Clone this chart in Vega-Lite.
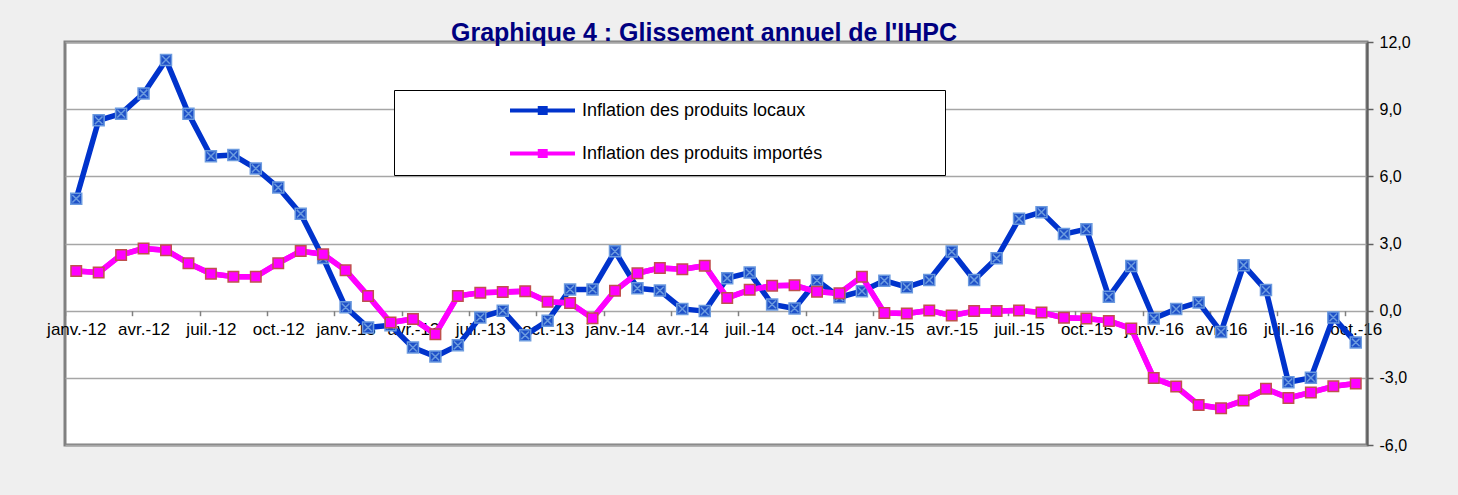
{
  "$schema": "https://vega.github.io/schema/vega-lite/v6.json",
  "width": 1302,
  "height": 403,
  "autosize": {"type": "none"},
  "padding": {"left": 65, "top": 42, "right": 91, "bottom": 50},
  "background": "#efefef",
  "config": {
    "view": {"fill": "white", "stroke": "#808080", "strokeWidth": 3},
    "font": "Liberation Sans"
  },
  "title": {
    "text": "Graphique 4 : Glissement annuel de l'IHPC",
    "font": "Liberation Sans",
    "fontSize": 25,
    "fontWeight": "bold",
    "color": "#000080",
    "anchor": "middle",
    "offset": -12,
    "dx": -12
  },
  "data": {
    "values": [
      {"m": "janv.-12", "s": "Inflation des produits locaux", "v": 5.0},
      {"m": "févr.-12", "s": "Inflation des produits locaux", "v": 8.5},
      {"m": "mars-12", "s": "Inflation des produits locaux", "v": 8.8},
      {"m": "avr.-12", "s": "Inflation des produits locaux", "v": 9.7},
      {"m": "mai-12", "s": "Inflation des produits locaux", "v": 11.2},
      {"m": "juin-12", "s": "Inflation des produits locaux", "v": 8.8},
      {"m": "juil.-12", "s": "Inflation des produits locaux", "v": 6.9},
      {"m": "août-12", "s": "Inflation des produits locaux", "v": 6.95},
      {"m": "sept.-12", "s": "Inflation des produits locaux", "v": 6.35},
      {"m": "oct.-12", "s": "Inflation des produits locaux", "v": 5.5},
      {"m": "nov.-12", "s": "Inflation des produits locaux", "v": 4.33},
      {"m": "déc.-12", "s": "Inflation des produits locaux", "v": 2.35},
      {"m": "janv.-13", "s": "Inflation des produits locaux", "v": 0.15},
      {"m": "févr.-13", "s": "Inflation des produits locaux", "v": -0.75},
      {"m": "mars-13", "s": "Inflation des produits locaux", "v": -0.65},
      {"m": "avr.-13", "s": "Inflation des produits locaux", "v": -1.65},
      {"m": "mai-13", "s": "Inflation des produits locaux", "v": -2.05},
      {"m": "juin-13", "s": "Inflation des produits locaux", "v": -1.55},
      {"m": "juil.-13", "s": "Inflation des produits locaux", "v": -0.3},
      {"m": "août-13", "s": "Inflation des produits locaux", "v": 0.0},
      {"m": "sept.-13", "s": "Inflation des produits locaux", "v": -1.1},
      {"m": "oct.-13", "s": "Inflation des produits locaux", "v": -0.45},
      {"m": "nov.-13", "s": "Inflation des produits locaux", "v": 0.95},
      {"m": "déc.-13", "s": "Inflation des produits locaux", "v": 0.95},
      {"m": "janv.-14", "s": "Inflation des produits locaux", "v": 2.65},
      {"m": "févr.-14", "s": "Inflation des produits locaux", "v": 1.0},
      {"m": "mars-14", "s": "Inflation des produits locaux", "v": 0.9},
      {"m": "avr.-14", "s": "Inflation des produits locaux", "v": 0.08},
      {"m": "mai-14", "s": "Inflation des produits locaux", "v": -0.02},
      {"m": "juin-14", "s": "Inflation des produits locaux", "v": 1.45},
      {"m": "juil.-14", "s": "Inflation des produits locaux", "v": 1.7},
      {"m": "août-14", "s": "Inflation des produits locaux", "v": 0.28},
      {"m": "sept.-14", "s": "Inflation des produits locaux", "v": 0.1},
      {"m": "oct.-14", "s": "Inflation des produits locaux", "v": 1.35},
      {"m": "nov.-14", "s": "Inflation des produits locaux", "v": 0.6},
      {"m": "déc.-14", "s": "Inflation des produits locaux", "v": 0.87},
      {"m": "janv.-15", "s": "Inflation des produits locaux", "v": 1.34},
      {"m": "févr.-15", "s": "Inflation des produits locaux", "v": 1.05},
      {"m": "mars-15", "s": "Inflation des produits locaux", "v": 1.37},
      {"m": "avr.-15", "s": "Inflation des produits locaux", "v": 2.64},
      {"m": "mai-15", "s": "Inflation des produits locaux", "v": 1.37},
      {"m": "juin-15", "s": "Inflation des produits locaux", "v": 2.34},
      {"m": "juil.-15", "s": "Inflation des produits locaux", "v": 4.1},
      {"m": "août-15", "s": "Inflation des produits locaux", "v": 4.4},
      {"m": "sept.-15", "s": "Inflation des produits locaux", "v": 3.42},
      {"m": "oct.-15", "s": "Inflation des produits locaux", "v": 3.64},
      {"m": "nov.-15", "s": "Inflation des produits locaux", "v": 0.62},
      {"m": "déc.-15", "s": "Inflation des produits locaux", "v": 2.0},
      {"m": "janv.-16", "s": "Inflation des produits locaux", "v": -0.35},
      {"m": "févr.-16", "s": "Inflation des produits locaux", "v": 0.07},
      {"m": "mars-16", "s": "Inflation des produits locaux", "v": 0.37},
      {"m": "avr.-16", "s": "Inflation des produits locaux", "v": -0.95},
      {"m": "mai-16", "s": "Inflation des produits locaux", "v": 2.03},
      {"m": "juin-16", "s": "Inflation des produits locaux", "v": 0.92},
      {"m": "juil.-16", "s": "Inflation des produits locaux", "v": -3.2},
      {"m": "août-16", "s": "Inflation des produits locaux", "v": -3.0},
      {"m": "sept.-16", "s": "Inflation des produits locaux", "v": -0.3},
      {"m": "oct.-16", "s": "Inflation des produits locaux", "v": -1.42},
      {"m": "janv.-12", "s": "Inflation des produits importés", "v": 1.77},
      {"m": "févr.-12", "s": "Inflation des produits importés", "v": 1.7},
      {"m": "mars-12", "s": "Inflation des produits importés", "v": 2.49},
      {"m": "avr.-12", "s": "Inflation des produits importés", "v": 2.78},
      {"m": "mai-12", "s": "Inflation des produits importés", "v": 2.7},
      {"m": "juin-12", "s": "Inflation des produits importés", "v": 2.12},
      {"m": "juil.-12", "s": "Inflation des produits importés", "v": 1.65},
      {"m": "août-12", "s": "Inflation des produits importés", "v": 1.52},
      {"m": "sept.-12", "s": "Inflation des produits importés", "v": 1.52},
      {"m": "oct.-12", "s": "Inflation des produits importés", "v": 2.12},
      {"m": "nov.-12", "s": "Inflation des produits importés", "v": 2.66},
      {"m": "déc.-12", "s": "Inflation des produits importés", "v": 2.52},
      {"m": "janv.-13", "s": "Inflation des produits importés", "v": 1.8},
      {"m": "févr.-13", "s": "Inflation des produits importés", "v": 0.66},
      {"m": "mars-13", "s": "Inflation des produits importés", "v": -0.53},
      {"m": "avr.-13", "s": "Inflation des produits importés", "v": -0.37},
      {"m": "mai-13", "s": "Inflation des produits importés", "v": -1.05},
      {"m": "juin-13", "s": "Inflation des produits importés", "v": 0.66},
      {"m": "juil.-13", "s": "Inflation des produits importés", "v": 0.8},
      {"m": "août-13", "s": "Inflation des produits importés", "v": 0.83},
      {"m": "sept.-13", "s": "Inflation des produits importés", "v": 0.87},
      {"m": "oct.-13", "s": "Inflation des produits importés", "v": 0.4},
      {"m": "nov.-13", "s": "Inflation des produits importés", "v": 0.34},
      {"m": "déc.-13", "s": "Inflation des produits importés", "v": -0.34},
      {"m": "janv.-14", "s": "Inflation des produits importés", "v": 0.89},
      {"m": "févr.-14", "s": "Inflation des produits importés", "v": 1.67},
      {"m": "mars-14", "s": "Inflation des produits importés", "v": 1.91},
      {"m": "avr.-14", "s": "Inflation des produits importés", "v": 1.85},
      {"m": "mai-14", "s": "Inflation des produits importés", "v": 2.01},
      {"m": "juin-14", "s": "Inflation des produits importés", "v": 0.57},
      {"m": "juil.-14", "s": "Inflation des produits importés", "v": 0.93},
      {"m": "août-14", "s": "Inflation des produits importés", "v": 1.11},
      {"m": "sept.-14", "s": "Inflation des produits importés", "v": 1.13},
      {"m": "oct.-14", "s": "Inflation des produits importés", "v": 0.84},
      {"m": "nov.-14", "s": "Inflation des produits importés", "v": 0.78},
      {"m": "déc.-14", "s": "Inflation des produits importés", "v": 1.52},
      {"m": "janv.-15", "s": "Inflation des produits importés", "v": -0.1},
      {"m": "févr.-15", "s": "Inflation des produits importés", "v": -0.13},
      {"m": "mars-15", "s": "Inflation des produits importés", "v": 0.01},
      {"m": "avr.-15", "s": "Inflation des produits importés", "v": -0.22},
      {"m": "mai-15", "s": "Inflation des produits importés", "v": -0.02},
      {"m": "juin-15", "s": "Inflation des produits importés", "v": -0.02},
      {"m": "juil.-15", "s": "Inflation des produits importés", "v": 0.01},
      {"m": "août-15", "s": "Inflation des produits importés", "v": -0.08},
      {"m": "sept.-15", "s": "Inflation des produits importés", "v": -0.32},
      {"m": "oct.-15", "s": "Inflation des produits importés", "v": -0.35},
      {"m": "nov.-15", "s": "Inflation des produits importés", "v": -0.46},
      {"m": "déc.-15", "s": "Inflation des produits importés", "v": -0.8},
      {"m": "janv.-16", "s": "Inflation des produits importés", "v": -3.01},
      {"m": "févr.-16", "s": "Inflation des produits importés", "v": -3.39},
      {"m": "mars-16", "s": "Inflation des produits importés", "v": -4.21},
      {"m": "avr.-16", "s": "Inflation des produits importés", "v": -4.36},
      {"m": "mai-16", "s": "Inflation des produits importés", "v": -4.01},
      {"m": "juin-16", "s": "Inflation des produits importés", "v": -3.49},
      {"m": "juil.-16", "s": "Inflation des produits importés", "v": -3.9},
      {"m": "août-16", "s": "Inflation des produits importés", "v": -3.65},
      {"m": "sept.-16", "s": "Inflation des produits importés", "v": -3.38},
      {"m": "oct.-16", "s": "Inflation des produits importés", "v": -3.25}
    ]
  },
  "encoding": {
    "x": {
      "field": "m",
      "type": "ordinal",
      "sort": null,
      "scale": {"type": "point", "padding": 0.5},
      "axis": {
        "title": null,
        "values": ["janv.-12", "avr.-12", "juil.-12", "oct.-12", "janv.-13", "avr.-13", "juil.-13", "oct.-13", "janv.-14", "avr.-14", "juil.-14", "oct.-14", "janv.-15", "avr.-15", "juil.-15", "oct.-15", "janv.-16", "avr.-16", "juil.-16", "oct.-16"],
        "offset": -134.3,
        "domain": false,
        "grid": false,
        "tickColor": "#808080",
        "tickSize": 5,
        "tickWidth": 1.5,
        "tickOffset": -11.22,
        "labelOffset": 11.22,
        "labelAngle": 0,
        "labelFontSize": 17,
        "labelColor": "black",
        "labelPadding": 6,
        "labelOverlap": false,
        "labelBound": false,
        "labelFlush": false
      }
    },
    "y": {
      "field": "v",
      "type": "quantitative",
      "scale": {"domain": [-6, 12], "nice": false, "zero": false},
      "axis": {
        "orient": "right",
        "title": null,
        "values": [-6, -3, 0, 3, 6, 9, 12],
        "labelExpr": "replace(replace(format(datum.value,'.1f'),'.',','),'\u2212','-')",
        "grid": true,
        "gridColor": "#a6a6a6",
        "gridWidth": 1.5,
        "domainColor": "#606060",
        "domainWidth": 2,
        "tickColor": "#606060",
        "tickSize": 6,
        "tickWidth": 1.5,
        "labelFontSize": 16,
        "labelColor": "black",
        "labelPadding": 6,
        "labelBound": false,
        "labelFlush": false
      }
    }
  },
  "layer": [
    {
      "mark": {"type": "line", "strokeWidth": 5.5, "strokeJoin": "round"},
      "encoding": {
        "color": {
          "field": "s",
          "type": "nominal",
          "scale": {
            "domain": ["Inflation des produits locaux", "Inflation des produits importés"],
            "range": ["#0033CC", "#FF00FF"]
          },
          "legend": {
            "orient": "none",
            "legendX": 329,
            "legendY": 48,
            "direction": "vertical",
            "title": "\u00a0",
            "titleOrient": "right",
            "titlePadding": 111,
            "titleFontSize": 17,
            "padding": 12,
            "fillColor": "white",
            "strokeColor": "black",
            "symbolType": "M-1,0M0.2,0H0.965M0.55,-0.03H0.62V0.03H0.55Z",
            "symbolSize": 28900,
            "symbolStrokeWidth": 4,
            "clipHeight": 17,
            "labelFontSize": 18,
            "labelLimit": 500,
            "labelColor": "black",
            "labelOffset": 2,
            "rowPadding": 24
          }
        }
      }
    },
    {
      "transform": [{"filter": "datum.s === 'Inflation des produits locaux'"}],
      "mark": {
        "type": "point",
        "shape": "M-1,-1H1V1H-1ZM-0.7,-0.7L0.7,0.7M-0.7,0.7L0.7,-0.7",
        "size": 121,
        "fill": "#1E50C8",
        "stroke": "#6C9BDF",
        "strokeWidth": 1.5,
        "opacity": 1
      }
    },
    {
      "transform": [{"filter": "datum.s === 'Inflation des produits importés'"}],
      "mark": {"type": "line", "strokeWidth": 5.5, "strokeJoin": "round", "color": "#FF00FF"}
    },
    {
      "transform": [{"filter": "datum.s === 'Inflation des produits importés'"}],
      "mark": {
        "type": "point",
        "shape": "square",
        "size": 110,
        "fill": "#FF00FF",
        "stroke": "#C0504D",
        "strokeWidth": 1.5,
        "opacity": 1
      }
    }
  ]
}
